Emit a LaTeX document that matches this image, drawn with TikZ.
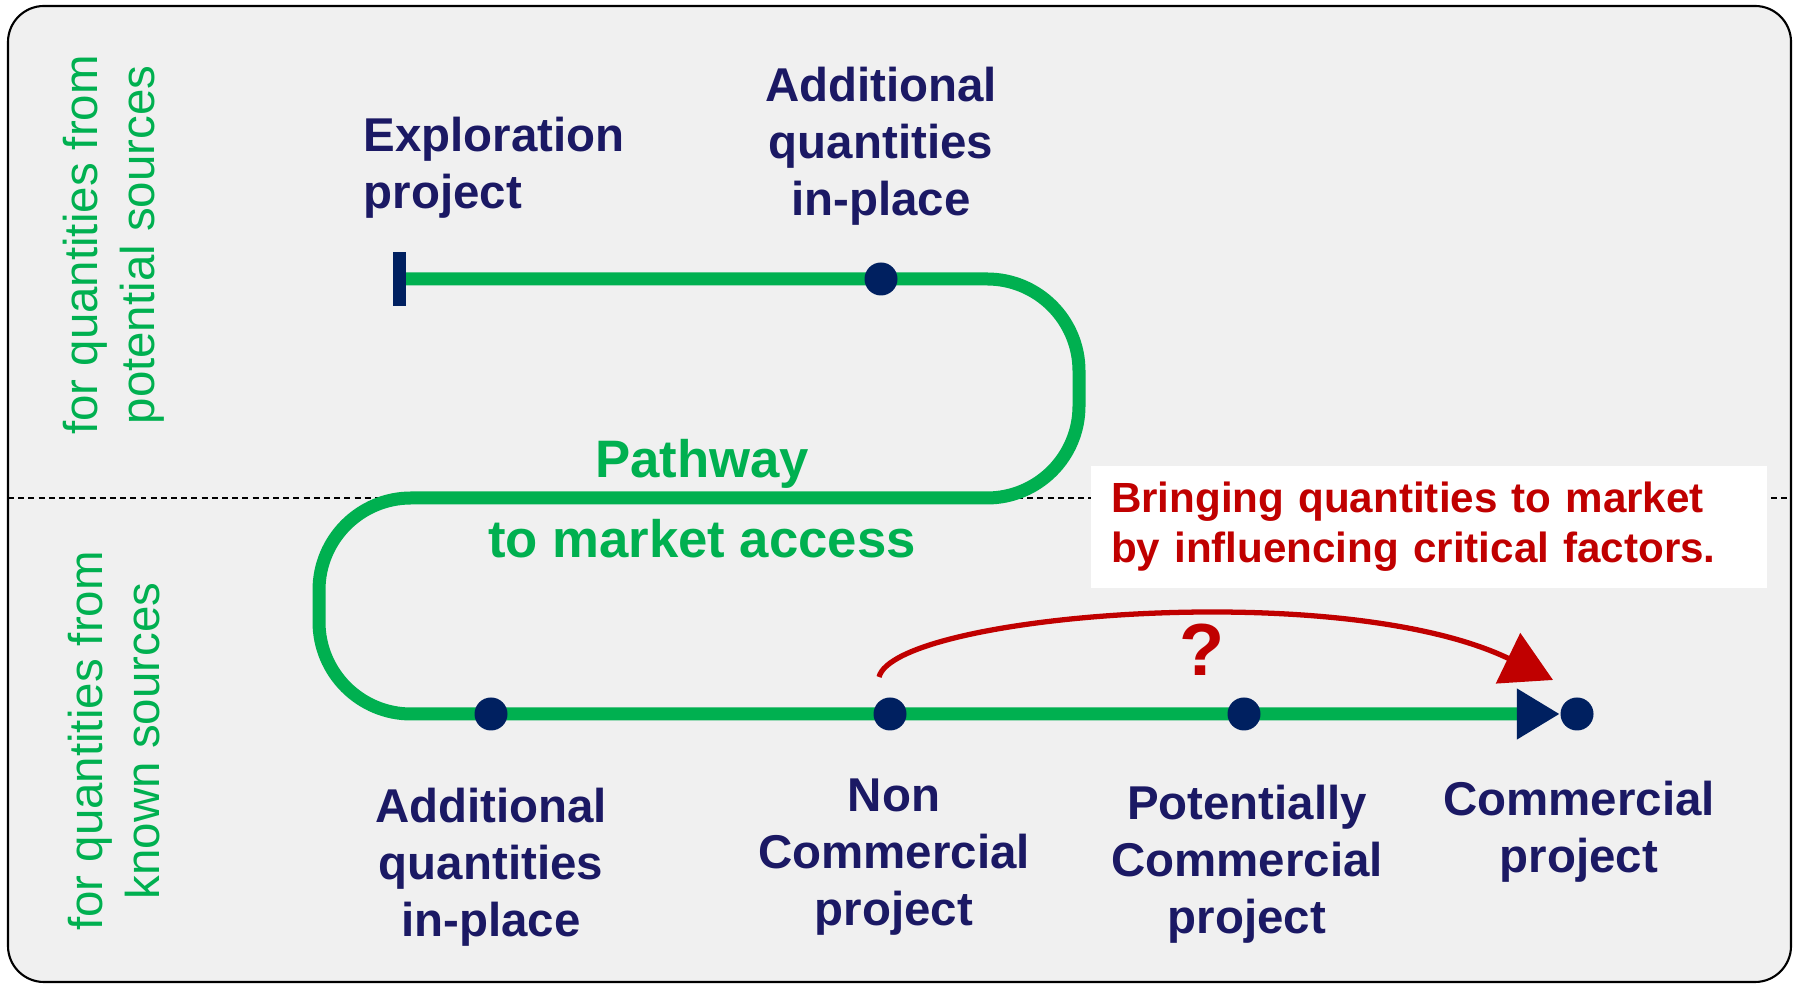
\documentclass[tikz,border=0pt]{standalone}
\usepackage{fontspec}
\setmainfont{Liberation Sans}
\usetikzlibrary{arrows.meta,backgrounds}
\definecolor{navytext}{HTML}{1B1964}
\definecolor{navydot}{HTML}{002060}
\definecolor{pathgreen}{HTML}{00B050}
\definecolor{marketred}{HTML}{C00000}
\definecolor{panelgray}{HTML}{F0F0F0}
\begin{document}
\begin{tikzpicture}[
  stage/.style={circle,fill=navydot,inner sep=0pt,minimum size=0.33cm},
  stagelabel/.style={text=navytext,font=\fontsize{13.5}{16.2}\selectfont\bfseries,align=center,inner sep=0pt},
  sidelabel/.style={text=pathgreen,font=\fontsize{13.5}{16.2}\selectfont,align=center,rotate=90,inner sep=0pt},
  pathlabel/.style={text=pathgreen,font=\fontsize{15}{18}\selectfont\bfseries,inner sep=0pt}
]
\useasboundingbox (0,0) rectangle (17.99,9.85);

% stages on the pathway
\node[stage] (addtop) at (8.81,7.06) {};
\node[stage] (addbot) at (4.91,2.71) {};
\node[stage] (noncom) at (8.90,2.71) {};
\node[stage] (potcom) at (12.44,2.71) {};
\node[stage] (com) at (15.77,2.71) {};
\coordinate (start) at (3.93,7.06);

\begin{scope}[on background layer]
\draw[line width=0.6pt,fill=panelgray,rounded corners=0.36cm] (0.08,0.03) rectangle (17.91,9.79);
\draw[dash pattern=on 1.7pt off 1.2pt,line width=0.5pt] (0.08,4.87) -- (17.91,4.87);
\draw[pathgreen,line width=0.13cm,rounded corners=0.92cm,
  {Bar[width=0.54cm,navydot]}-{Triangle[length=0.43cm,width=0.48cm,navydot]}]
  (start) -- (10.79,7.06) -- (10.79,4.87) -- (3.19,4.87) -- (3.19,2.71) -- (com.west);
\end{scope}

% labels
\node[stagelabel,anchor=west,align=left] (explore) at (3.63,8.17) {Exploration\\project};
\node[stagelabel] (addtoplbl) at (8.81,8.39) {Additional\\quantities\\in-place};
\node[stagelabel] (addbotlbl) at (4.91,1.18) {Additional\\quantities\\in-place};
\node[stagelabel] (noncomlbl) at (8.94,1.28) {Non\\Commercial\\project};
\node[stagelabel] (potcomlbl) at (12.47,1.21) {Potentially\\Commercial\\project};
\node[stagelabel] (comlbl) at (15.79,1.53) {Commercial\\project};

\node[pathlabel] (pathway) at (7.02,5.21) {Pathway};
\node[pathlabel] (access) at (7.02,4.46) {to market access};

\node[sidelabel] (potential) at (1.14,7.40) {for quantities from\\potential sources};
\node[sidelabel] (known) at (1.14,2.44) {for quantities from\\known sources};

% shortcut to market
\node[fill=white,minimum width=6.76cm,minimum height=1.22cm,text width=6.36cm,align=left,
  text=marketred,font=\fontsize{12}{14.2}\selectfont\bfseries] (hint) at (14.29,4.58)
  {Bringing quantities to market\\by influencing critical factors.};
\coordinate (jumpfrom) at (8.79,3.08);
\coordinate (jumpto) at (15.53,3.05);
\draw[marketred,line width=1.5pt,-{Triangle[length=0.5cm,width=0.55cm]}]
  (jumpfrom) .. controls (8.95,3.70) and (13.40,4.08) .. (jumpto);
\node[text=marketred,font=\fontsize{21}{25}\selectfont\bfseries,inner sep=0pt] (qmark) at (12.02,3.35) {?};
\end{tikzpicture}
\end{document}
